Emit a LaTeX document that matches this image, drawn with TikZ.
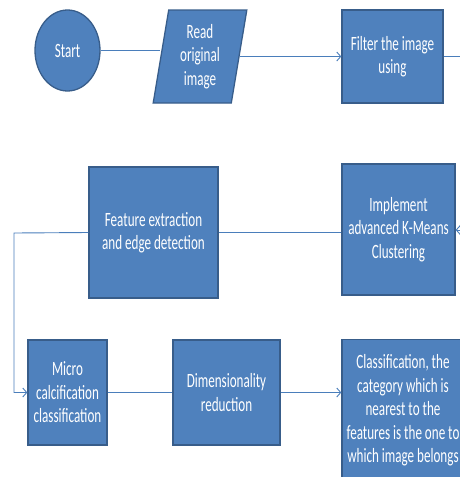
\documentclass[tikz,border=0pt]{standalone}
\usepackage{fontspec}
\setmainfont{Carlito}[FakeStretch=0.645]
\usepackage{tikz}
\usetikzlibrary{shapes.geometric,arrows.meta}
\definecolor{boxblue}{HTML}{4F81BD}
\definecolor{boxedge}{HTML}{385D8A}
\definecolor{linkblue}{HTML}{4A7EBB}
\tikzstyle{box} = [rectangle, fill=boxblue, draw=boxedge, line width=1.3pt,
	text=white, align=center, inner sep=2pt, font=\fontsize{20.3}{23.5}\selectfont]
\tikzstyle{startnode} = [box, ellipse]
\tikzstyle{io} = [box, trapezium, trapezium left angle=81, trapezium right angle=99,
	trapezium stretches=true]
\tikzstyle{flow} = [draw=linkblue, line width=0.9pt]
\tikzstyle{arrowto} = [flow, -{Straight Barb[length=4pt,width=9pt,line width=0.9pt]}]

\begin{document}
\begin{tikzpicture}[x=1pt, y=-1pt]
			\useasboundingbox (0,0) rectangle (460,477);
			\clip (0,0) rectangle (460,477);
			
			% top row
			\node [startnode, minimum width=65, minimum height=81] (start) at (67.5,50.5) {Start};
			\node [io, minimum width=94, minimum height=93] (read) at (200,56.5) {Read\\original\\image};
			\node [box, minimum width=101, minimum height=93] (filter) at (392.5,56.5) {Filter the image\\using};
			
			% middle row
			\node [box, minimum width=129, minimum height=131] (feature) at (153.5,232.5) {Feature extraction\\and edge detection};
			\node [box, minimum width=113, minimum height=131] (kmeans) at (398.5,229.5) {Implement\\advanced K-Means\\Clustering};
			
			% bottom row
			\node [box, minimum width=79, minimum height=105] (micro) at (67.5,392.5) {Micro\\calcification\\classification};
			\node [box, minimum width=107, minimum height=105] (dim) at (226.5,392.5) {Dimensionality\\reduction};
			\node [box, minimum width=122, minimum height=142] (classify) at (403,410.5) {Classification, the\\category which is\\nearest to the\\features is the one to\\which image belongs};
			
			\coordinate (outA) at (475,56.5);
			\coordinate (outB) at (475,230);
			\coordinate (bendA) at (14,233);
			\coordinate (bendB) at (14,392.5);
			
			\draw [flow] (start.east) -- (start.east -| read.west);
			\draw [arrowto] (read.east |- filter.west) -- (filter.west);
			\draw [flow] (filter.east) -- (outA);
			\draw [arrowto] (outB) -- (kmeans.east |- outB);
			\draw [flow] (kmeans.west |- feature.east) -- (feature.east);
			\draw [arrowto] (feature.west) -- (bendA) -- (bendB) -- (micro.west);
			\draw [flow] (micro.east) -- (dim.west);
			\draw [arrowto] (dim.east) -- (dim.east -| classify.west);
			
			\end{tikzpicture}
\end{document}
